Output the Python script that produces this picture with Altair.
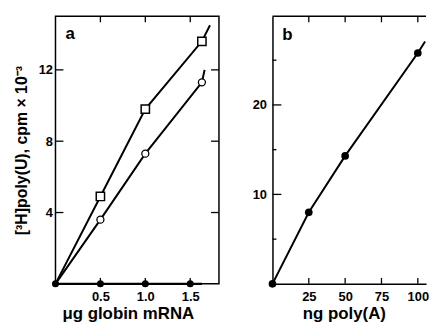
import altair as alt
import pandas as pd

# ---------------- data ----------------
# Panel a
a_sym_x = [0.5, 1.0, 1.63]
a_square_y = [4.9, 9.8, 13.6]
a_circle_y = [3.6, 7.3, 11.3]
a_filled_x = [0.0, 0.5, 1.0, 1.5]
a_filled_y = [0.0, 0.0, 0.0, 0.0]
a_base_x = [0.0, 1.63]
a_base_y = [0.0, 0.0]
a_sqline_x = [0.0, 0.5, 1.0, 1.63, 1.72]
a_sqline_y = [0.0, 4.9, 9.8, 13.6, 14.5]
a_ciline_x = [0.0, 0.5, 1.0, 1.63, 1.66]
a_ciline_y = [0.0, 3.6, 7.3, 11.3, 12.0]
a_yticks = [4, 8, 12]
a_xticks = [0.5, 1.0, 1.5]

# Panel b
b_x = [0, 25, 50, 100]
b_y = [0.0, 8.0, 14.3, 25.8]
b_line_x = [0, 25, 50, 100, 105]
b_line_y = [0.0, 8.0, 14.3, 25.8, 27.1]
b_ymajor = [10, 20]
b_yminor = [5, 15, 25]
b_xticks = [25, 50, 75, 100]

W_A, W_B, H = 165, 155, 270
FONT = "Liberation Sans"

# ---------------- panel a ----------------
xs_a = alt.Scale(domain=[0, 1.82], nice=False, zero=False)
ys_a = alt.Scale(domain=[0, 15], nice=False, zero=False)
ax_a_x = alt.Axis(values=a_xticks, format=".1f", title="μg globin mRNA", ticks=False,
                  domain=False, grid=False, labelPadding=7, titlePadding=2,
                  titleFontSize=17, titleX=73, titleAlign="center")
ax_a_y = alt.Axis(values=a_yticks, title="[³H]poly(U), cpm × 10⁻³", ticks=False,
                  domain=False, grid=False, labelPadding=3, titlePadding=9,
                  titleFontSize=16)

def XA(f="x"):
    return alt.X(f"{f}:Q", scale=xs_a, axis=ax_a_x)

def YA(f="y"):
    return alt.Y(f"{f}:Q", scale=ys_a, axis=ax_a_y)

sq_df = pd.DataFrame({"x": a_sym_x, "y": a_square_y})
ci_df = pd.DataFrame({"x": a_sym_x, "y": a_circle_y})
fi_df = pd.DataFrame({"x": a_filled_x, "y": a_filled_y})
base_df = pd.DataFrame({"x": a_base_x, "y": a_base_y})
sqline_df = pd.DataFrame({"x": a_sqline_x, "y": a_sqline_y})
ciline_df = pd.DataFrame({"x": a_ciline_x, "y": a_ciline_y})
ayt_df = pd.DataFrame({"y": a_yticks})
axt_df = pd.DataFrame({"x": a_xticks})
lab_a = pd.DataFrame({"t": ["a"]})

a_layers = [
    alt.Chart(sqline_df).mark_line(color="black", strokeWidth=2).encode(x=XA(), y=YA()),
    alt.Chart(ciline_df).mark_line(color="black", strokeWidth=2).encode(x=XA(), y=YA()),
    alt.Chart(base_df).mark_line(color="black", strokeWidth=2.5).encode(x=XA(), y=YA()),
    alt.Chart(ayt_df).mark_rule(color="black", strokeWidth=1.3).encode(
        y=YA(), x=alt.value(0), x2=alt.value(8)),
    alt.Chart(ayt_df).mark_rule(color="black", strokeWidth=1.3).encode(
        y=YA(), x=alt.value(W_A - 8), x2=alt.value(W_A)),
    alt.Chart(axt_df).mark_rule(color="black", strokeWidth=1.3).encode(
        x=XA(), y=alt.value(0), y2=alt.value(6)),
    alt.Chart(axt_df).mark_rule(color="black", strokeWidth=1.3).encode(
        x=XA(), y=alt.value(H - 6), y2=alt.value(H)),
    alt.Chart(sq_df).mark_point(shape="square", size=70, filled=True, fill="white",
                                stroke="black", strokeWidth=1.5, opacity=1).encode(x=XA(), y=YA()),
    alt.Chart(ci_df).mark_point(shape="circle", size=50, filled=True, fill="white",
                                stroke="black", strokeWidth=1.3, opacity=1).encode(x=XA(), y=YA()),
    alt.Chart(fi_df).mark_point(shape="circle", size=50, filled=True, color="black",
                                opacity=1).encode(x=XA(), y=YA()),
    alt.Chart(lab_a).mark_text(align="left", baseline="alphabetic", fontSize=17,
                               fontWeight="bold", font=FONT, color="black").encode(
        x=alt.value(10), y=alt.value(23), text="t:N"),
]
panel_a = alt.layer(*a_layers).properties(
    width=W_A, height=H,
    view=alt.ViewBackground(stroke="black", strokeWidth=1.5))

# ---------------- panel b ----------------
xs_b = alt.Scale(domain=[0, W_B / 1.467], nice=False, zero=False)
ys_b = alt.Scale(domain=[0, 29.9], nice=False, zero=False)
ax_b_x = alt.Axis(values=b_xticks, title="ng poly(A)", ticks=False, domain=True,
                  domainColor="black", domainWidth=1.5, grid=False, labelPadding=7,
                  titlePadding=2, titleFontSize=17, titleX=72, titleAlign="center")
ax_b_y = alt.Axis(values=b_ymajor, title=None, ticks=False, domain=True,
                  domainColor="black", domainWidth=1.5, grid=False, labelPadding=6)

def XB(f="x"):
    return alt.X(f"{f}:Q", scale=xs_b, axis=ax_b_x)

def YB(f="y"):
    return alt.Y(f"{f}:Q", scale=ys_b, axis=ax_b_y)

bpt_df = pd.DataFrame({"x": b_x, "y": b_y})
bln_df = pd.DataFrame({"x": b_line_x, "y": b_line_y})
bmaj_df = pd.DataFrame({"y": b_ymajor})
bmin_df = pd.DataFrame({"y": b_yminor})
bxt_df = pd.DataFrame({"x": b_xticks})
top_df = pd.DataFrame({"k": [0]})
lab_b = pd.DataFrame({"t": ["b"]})

b_layers = [
    alt.Chart(bln_df).mark_line(color="black", strokeWidth=2).encode(x=XB(), y=YB()),
    alt.Chart(top_df).mark_rule(color="black", strokeWidth=1.5).encode(
        x=alt.value(0), x2=alt.value(W_B), y=alt.value(0)),
    alt.Chart(bmaj_df).mark_rule(color="black", strokeWidth=1.3).encode(
        y=YB(), x=alt.value(0), x2=alt.value(9)),
    alt.Chart(bmin_df).mark_rule(color="black", strokeWidth=1.3).encode(
        y=YB(), x=alt.value(0), x2=alt.value(4)),
    alt.Chart(bxt_df).mark_rule(color="black", strokeWidth=1.3).encode(
        x=XB(), y=alt.value(0), y2=alt.value(6)),
    alt.Chart(bxt_df).mark_rule(color="black", strokeWidth=1.3).encode(
        x=XB(), y=alt.value(H - 6), y2=alt.value(H)),
    alt.Chart(bpt_df).mark_point(shape="circle", size=60, filled=True, color="black",
                                 opacity=1).encode(x=XB(), y=YB()),
    alt.Chart(lab_b).mark_text(align="left", baseline="alphabetic", fontSize=17,
                               fontWeight="bold", font=FONT, color="black").encode(
        x=alt.value(10), y=alt.value(24), text="t:N"),
]
panel_b = alt.layer(*b_layers).properties(
    width=W_B, height=H,
    view=alt.ViewBackground(stroke="transparent"))

chart = alt.hconcat(panel_a, panel_b, spacing=31).properties(
    padding={"left": 12, "top": 13, "right": 0, "bottom": 0}
).configure(font=FONT, background="white").configure_axis(
    labelFont=FONT, titleFont=FONT, labelFontSize=13, labelColor="black",
    titleColor="black", titleFontWeight="bold", labelFontWeight="bold"
)

chart.save("out.html", embed_options={"renderer": "svg", "actions": False})
